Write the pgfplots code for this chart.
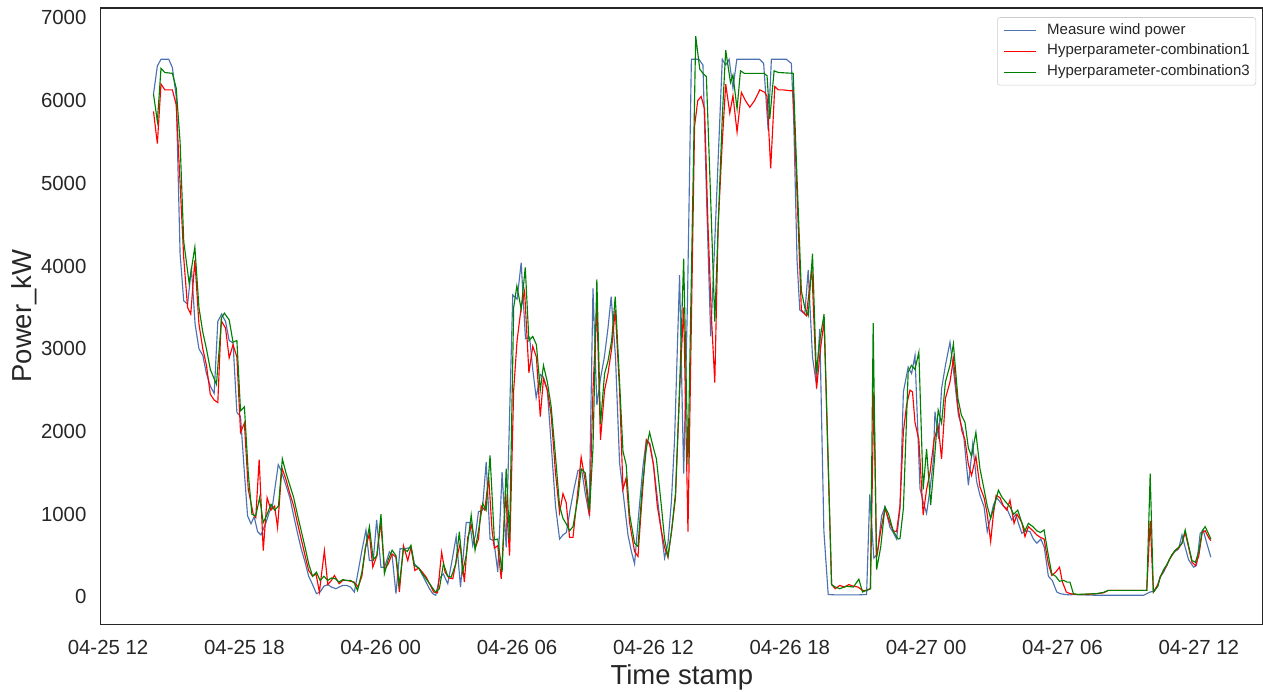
\documentclass[border=0pt]{standalone}
\usepackage{fontspec}
\setmainfont{Liberation Sans}
\usepackage{pgfplots}
\pgfplotsset{compat=1.18}
\definecolor{sbblue}{HTML}{4C72B0}
\definecolor{mplred}{HTML}{FF0000}
\definecolor{mplgreen}{HTML}{008000}
\definecolor{axgray}{HTML}{262626}
\begin{document}
\begin{tikzpicture}
\useasboundingbox (0,0) rectangle (947.25pt,519pt);
\begin{axis}[
  at={(75.5pt,50.8pt)}, anchor=south west,
  width=871.75pt, height=462.2pt, scale only axis,
  xmin=11.675, xmax=62.825, ymin=-330, ymax=7120,
  axis line style={draw=axgray, line width=1pt},
  major tick length=0pt,
  xtick={12,18,...,60},
  xticklabels={04-25 12,04-25 18,04-26 00,04-26 06,04-26 12,04-26 18,04-27 00,04-27 06,04-27 12},
  ytick={0,1000,...,7000},
  scaled y ticks=false,
  tick label style={font=\fontsize{15.3pt}{18pt}\selectfont, text=axgray},
  xticklabel style={anchor=base, yshift=-22.5pt, inner sep=0pt},
  yticklabel style={anchor=east, inner sep=0pt, xshift=-10.5pt,
    /pgf/number format/1000 sep={}, /pgf/number format/assume math mode=true},
  xlabel={Time stamp}, ylabel={Power\_kW},
  label style={font=\fontsize{20.6pt}{24pt}\selectfont, text=axgray},
  xlabel style={at={(axis description cs:0.5,-0.0974)}, anchor=base, inner sep=0pt},
  ylabel style={at={(axis description cs:-0.0591,0.5)}, anchor=base, rotate=0, inner sep=0pt},
  legend style={at={(0.994,0.985)}, anchor=north east, draw=black!20, rounded corners=2pt,
    fill=white, text=axgray, font=\fontsize{11.25pt}{13pt}\selectfont,
    inner xsep=4.5pt, inner ysep=4.2pt, row sep=4.7pt,
    nodes={inner sep=0pt, text height=8.2pt, text depth=2.8pt},
    /tikz/every odd column/.append style={column sep=8pt}},
  legend cell align=left,
  legend image code/.code={\draw[#1] (0pt,0pt) -- (24pt,0pt);},
]
\addplot[sbblue, line width=0.85pt] table {
x y
14.00 6080
14.17 6420
14.33 6500
14.50 6500
14.67 6500
14.83 6400
15.00 6050
15.17 4150
15.33 3580
15.50 3540
15.67 3980
15.83 3300
16.00 3000
16.17 2920
16.33 2700
16.50 2550
16.67 2460
16.83 3330
17.00 3420
17.17 3330
17.33 3100
17.50 3070
17.67 2230
17.83 2180
18.00 1500
18.14 980
18.29 885
18.43 970
18.58 790
18.73 750
18.95 900
19.09 1020
19.24 1110
19.49 1600
19.61 1530
19.83 1350
20.00 1200
20.17 980
20.33 780
20.50 580
20.67 420
20.83 250
21.00 150
21.17 40
21.33 60
21.50 130
21.67 150
21.83 120
22.03 100
22.17 120
22.33 140
22.50 140
22.67 120
22.84 60
23.00 300
23.17 560
23.35 810
23.50 440
23.67 440
23.82 930
24.01 360
24.17 360
24.38 545
24.50 500
24.67 40
24.85 585
25.00 580
25.17 590
25.33 600
25.48 400
25.67 350
25.92 220
26.14 100
26.29 40
26.42 20
26.58 220
26.75 280
26.95 160
27.13 430
27.32 730
27.51 120
27.76 900
27.92 900
28.05 620
28.17 750
28.30 1030
28.47 1050
28.64 1630
28.81 700
28.98 680
29.15 300
29.34 1510
29.52 600
29.67 2200
29.81 3650
30.00 3600
30.18 4040
30.37 3120
30.55 3140
30.69 2750
30.84 2410
31.02 2690
31.17 2650
31.33 2500
31.50 1850
31.69 1100
31.87 700
32.02 750
32.17 780
32.33 1050
32.50 1300
32.68 1530
32.84 1540
33.00 1250
33.17 1000
33.34 3730
33.51 2320
33.67 2640
33.84 2900
34.00 3250
34.14 3630
34.33 2900
34.51 1620
34.69 1200
34.88 750
35.03 550
35.17 400
35.35 1000
35.54 1580
35.69 1900
35.85 1850
36.00 1600
36.13 1300
36.30 900
36.49 470
36.64 650
36.79 1150
36.93 1900
37.15 3890
37.33 1490
37.50 3600
37.67 6500
37.85 6500
38.00 6500
38.18 6430
38.35 4700
38.52 3150
38.67 4100
38.85 5300
39.03 6500
39.18 6430
39.33 6500
39.50 6150
39.67 6500
40.00 6500
40.33 6500
40.67 6500
40.85 6450
41.05 5640
41.19 6500
41.50 6500
41.85 6500
42.07 6450
42.17 5800
42.32 4070
42.44 3470
42.66 3420
42.81 3950
43.00 2900
43.17 2570
43.32 3240
43.50 800
43.69 30
44.00 25
44.50 25
45.00 25
45.38 30
45.52 1240
45.70 470
45.85 515
46.04 980
46.19 1090
46.41 840
46.55 780
46.70 700
46.85 1070
47.00 2480
47.21 2780
47.36 2700
47.51 2920
47.73 1310
47.87 1150
48.02 1010
48.17 1300
48.31 1630
48.39 2240
48.55 1910
48.68 2520
48.85 2800
49.05 3080
49.22 2700
49.42 2200
49.64 1990
49.86 1350
50.05 1850
50.22 1400
50.37 1230
50.55 1090
50.69 790
50.83 950
50.96 1110
51.10 1200
51.25 1150
51.40 1100
51.55 1070
51.77 930
51.95 1000
52.05 900
52.21 770
52.40 800
52.57 790
52.72 700
52.87 650
53.05 700
53.20 600
53.38 250
53.55 200
53.75 60
53.90 40
54.10 30
54.33 25
54.48 30
55.00 25
55.50 20
56.00 20
56.50 20
57.00 20
57.56 20
57.71 40
57.86 60
58.05 70
58.20 150
58.30 240
58.45 300
58.59 380
58.70 450
58.81 500
58.95 550
59.11 580
59.26 750
59.40 600
59.55 450
59.77 360
59.90 380
60.06 770
60.20 800
60.35 650
60.53 480
};
\addlegendentry{Measure wind power}
\addplot[mplred, line width=0.85pt] table {
x y
14.00 5870
14.17 5480
14.33 6200
14.50 6130
14.67 6130
14.83 6130
15.00 5950
15.17 5000
15.33 4100
15.50 3500
15.64 3420
15.82 4070
16.00 3300
16.17 3000
16.33 2800
16.50 2450
16.67 2380
16.83 2350
16.98 3340
17.17 3250
17.33 2890
17.50 3050
17.67 2900
17.83 1990
18.00 2100
18.17 1300
18.39 1000
18.50 960
18.65 1660
18.83 560
19.00 1200
19.17 1050
19.33 1100
19.46 840
19.65 1560
19.83 1420
20.00 1250
20.17 1100
20.33 900
20.50 700
20.67 500
20.83 320
21.00 250
21.15 280
21.30 60
21.52 560
21.67 150
21.83 200
21.96 260
22.17 160
22.33 200
22.50 200
22.67 190
22.83 180
23.00 120
23.17 250
23.33 600
23.50 760
23.65 360
23.83 500
24.00 900
24.17 330
24.33 400
24.50 520
24.67 480
24.82 60
25.00 620
25.19 440
25.33 600
25.50 320
25.67 350
25.83 300
26.00 240
26.17 150
26.33 60
26.50 50
26.68 540
26.83 300
27.00 230
27.17 220
27.33 450
27.50 650
27.68 180
27.83 720
28.00 870
28.17 600
28.30 700
28.42 1100
28.58 1050
28.75 1450
28.90 800
29.00 590
29.15 620
29.30 220
29.50 1250
29.67 500
29.85 2500
30.00 3100
30.18 3500
30.33 3700
30.52 2710
30.69 3030
30.85 2900
31.02 2180
31.16 2640
31.33 2500
31.50 2200
31.69 1500
31.87 1020
32.02 1250
32.16 1140
32.31 720
32.46 720
32.68 1300
32.82 1690
33.00 1400
33.19 980
33.34 2500
33.51 3520
33.67 1900
33.85 2500
34.00 2700
34.16 3000
34.32 3470
34.51 2500
34.66 1300
34.80 1440
34.95 900
35.17 550
35.32 490
35.50 1200
35.69 1900
35.83 1850
36.00 1600
36.17 1100
36.35 800
36.49 600
36.64 480
36.80 800
36.97 1200
37.15 2500
37.33 3500
37.52 790
37.81 5690
37.95 6000
38.10 6050
38.25 5900
38.40 4500
38.55 3400
38.70 2590
38.85 4500
39.03 5500
39.18 6200
39.36 5850
39.50 6060
39.68 5620
39.87 6100
40.05 6000
40.24 5920
40.45 6000
40.68 6130
40.90 6100
41.00 6050
41.16 5180
41.34 6170
41.50 6130
41.71 6130
42.00 6120
42.15 6120
42.30 5000
42.51 3470
42.73 3400
42.97 3980
43.18 2520
43.35 3000
43.51 3330
43.84 150
44.00 100
44.20 140
44.40 120
44.60 150
44.80 130
45.00 120
45.20 80
45.38 80
45.55 100
45.70 2480
45.82 470
46.00 800
46.19 1070
46.40 900
46.55 800
46.70 790
46.85 1100
47.00 2000
47.14 2320
47.29 2500
47.40 2480
47.51 2110
47.68 1900
47.87 990
48.02 1300
48.17 1500
48.35 1900
48.53 2070
48.68 1670
48.85 2400
49.05 2600
49.20 2880
49.40 2300
49.58 2000
49.71 1900
49.86 1600
50.00 1470
50.19 1700
50.37 1330
50.55 1200
50.69 1000
50.84 670
50.96 1000
51.08 1230
51.25 1200
51.40 1100
51.55 1050
51.69 1170
51.87 890
52.00 1000
52.21 900
52.35 730
52.50 850
52.70 800
52.87 750
53.03 720
53.19 700
53.38 400
53.53 260
53.70 300
53.87 360
54.00 180
54.17 60
54.33 40
54.65 30
55.00 30
55.50 40
55.80 50
56.02 80
56.50 80
57.00 80
57.50 80
57.71 80
57.86 920
58.00 60
58.20 150
58.30 240
58.45 320
58.59 380
58.70 450
58.81 500
58.95 560
59.11 590
59.26 650
59.40 780
59.55 600
59.70 420
59.85 380
60.00 500
60.15 780
60.28 800
60.45 710
60.53 680
};
\addlegendentry{Hyperparameter-combination1}
\addplot[mplgreen, line width=0.85pt] table {
x y
14.00 6080
14.17 5750
14.33 6390
14.50 6340
14.83 6330
15.00 6150
15.17 5500
15.33 4300
15.57 3790
15.82 4230
16.00 3500
16.17 3200
16.33 3000
16.50 2750
16.77 2570
17.00 3380
17.12 3430
17.33 3350
17.50 3080
17.67 3100
17.83 2250
18.00 2300
18.17 1500
18.33 1000
18.50 980
18.67 1200
18.83 900
19.00 1000
19.17 1120
19.33 1050
19.50 1100
19.67 1670
19.83 1500
20.00 1350
20.17 1200
20.33 1000
20.50 800
20.67 600
20.83 400
21.00 250
21.17 300
21.33 200
21.50 250
21.67 200
21.83 230
22.00 220
22.17 180
22.33 210
22.50 200
22.67 200
22.83 170
22.98 80
23.17 300
23.33 600
23.50 850
23.67 450
23.83 500
24.01 1000
24.16 280
24.33 450
24.50 565
24.67 500
24.82 150
25.00 585
25.17 550
25.33 625
25.48 380
25.67 350
25.83 280
26.00 220
26.17 150
26.41 60
26.58 100
26.76 400
26.95 250
27.10 240
27.30 400
27.46 790
27.60 300
27.76 500
27.98 990
28.15 565
28.30 800
28.49 1130
28.64 1050
28.81 1710
29.00 690
29.15 700
29.34 300
29.52 1550
29.67 700
29.85 3500
29.99 3760
30.18 3480
30.36 3985
30.52 3100
30.69 3150
30.85 3050
31.02 2500
31.16 2800
31.33 2600
31.50 2300
31.69 1700
31.87 1100
32.02 950
32.16 885
32.31 800
32.46 850
32.68 1200
32.82 1550
33.00 1500
33.19 1050
33.34 1800
33.51 3840
33.67 2090
33.85 2700
34.00 2850
34.16 3100
34.32 3630
34.51 2600
34.66 1760
34.80 1600
34.95 1000
35.17 650
35.32 610
35.50 1300
35.69 1800
35.83 1990
36.00 1800
36.13 1670
36.35 1100
36.49 700
36.64 490
36.80 800
36.97 1250
37.15 2500
37.33 4090
37.52 1600
37.86 6780
38.04 6380
38.18 6330
38.33 6290
38.52 4800
38.70 3330
38.85 4500
39.03 5800
39.18 6610
39.39 6220
39.50 6310
39.68 5900
39.83 6360
40.00 6330
40.87 6330
41.00 6300
41.12 5780
41.31 6360
41.50 6340
42.15 6330
42.30 5200
42.51 3700
42.66 3500
42.81 3400
43.00 4150
43.17 2700
43.32 3100
43.51 3420
43.84 150
44.00 120
44.20 100
44.50 130
44.80 120
45.04 215
45.20 60
45.38 80
45.55 100
45.67 3310
45.82 330
46.00 600
46.19 1090
46.35 1000
46.55 800
46.77 700
46.85 706
47.00 1070
47.21 2720
47.36 2800
47.51 2750
47.68 2960
47.87 1300
48.02 1790
48.20 1110
48.35 1600
48.53 2260
48.68 2100
48.85 2600
49.05 2800
49.20 3060
49.40 2400
49.55 2200
49.71 2110
49.86 1800
50.00 1700
50.19 1990
50.37 1550
50.55 1300
50.69 1100
50.84 950
51.00 1100
51.18 1290
51.35 1200
51.50 1150
51.69 1090
51.85 1000
52.03 1050
52.21 900
52.35 800
52.50 890
52.70 850
52.87 800
53.03 780
53.19 810
53.38 500
53.53 280
53.70 250
53.87 190
54.05 200
54.20 180
54.33 180
54.48 40
54.65 30
55.00 35
55.50 40
55.80 55
56.02 80
57.71 80
57.86 1490
58.00 60
58.20 130
58.30 240
58.45 330
58.59 390
58.70 450
58.81 510
58.95 560
59.11 600
59.26 650
59.40 810
59.55 620
59.70 440
59.85 420
60.00 550
60.15 800
60.28 850
60.45 750
60.53 700
};
\addlegendentry{Hyperparameter-combination3}
\end{axis}
\end{tikzpicture}
\end{document}
